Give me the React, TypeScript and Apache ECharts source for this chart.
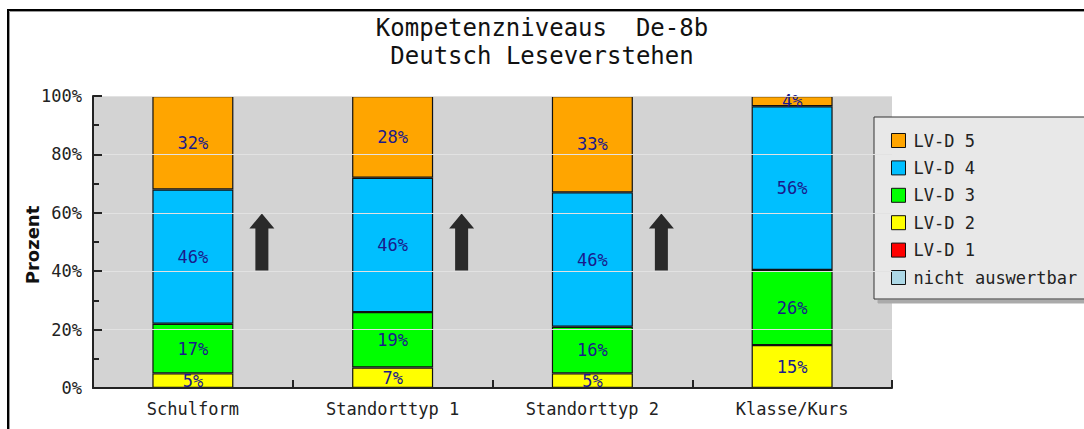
import React, { useEffect, useRef } from "react";
import * as echarts from "echarts";

const TITLE_LINES = ["Kompetenzniveaus  De-8b", "Deutsch Leseverstehen"];
const Y_AXIS_NAME = "Prozent";
const CATEGORIES = ["Schulform", "Standorttyp 1", "Standorttyp 2", "Klasse/Kurs"];
const LEVEL_NAMES = ["nicht auswertbar", "LV-D 1", "LV-D 2", "LV-D 3", "LV-D 4", "LV-D 5"];
const LEVEL_COLORS = ["#add8e6", "#ff0000", "#ffff00", "#00ff00", "#00bfff", "#ffa500"];
const NICHT_AUSWERTBAR = [0, 0, 0, 0];
const LVD1 = [0, 0, 0, 0];
const LVD2 = [5, 7, 5, 14.7];
const LVD3 = [17, 19, 16, 25.7];
const LVD4 = [46, 46, 46, 56.1];
const LVD5 = [32, 28, 33, 3.5];
const LEVEL_VALUES = [NICHT_AUSWERTBAR, LVD1, LVD2, LVD3, LVD4, LVD5];
const ARROW_CATEGORIES = ["Schulform", "Standorttyp 1", "Standorttyp 2"];
const ARROW_LEVEL = 50;
const Y_TICKS = [0, 20, 40, 60, 80, 100];

const FONT = "'DejaVu Sans Mono', 'Liberation Mono', monospace";
const ARROW_PATH = "path://M12.5,0 L25,15 L19,15 L19,57 L6,57 L6,15 L0,15 Z";

export default function App() {
  const ref = useRef<HTMLDivElement>(null);

  useEffect(() => {
    document.body.style.margin = "0";
    if (!ref.current) return;
    const chart = echarts.init(ref.current, undefined, { renderer: "svg" });

    const barSeries = LEVEL_NAMES.map((name, i) => ({
      name,
      type: "bar",
      stack: "total",
      barWidth: 81,
      data: LEVEL_VALUES[i],
      itemStyle: { color: LEVEL_COLORS[i], borderColor: "#111", borderWidth: 1.2 },
      label: {
        show: true,
        position: "inside",
        fontFamily: FONT,
        fontSize: 17,
        color: "#1a1a8c",
        formatter: (p: any) => (p.value > 0 ? Math.round(p.value) + "%" : ""),
      },
    }));

    const arrowSeries = {
      name: "arrow",
      type: "scatter",
      symbol: ARROW_PATH,
      symbolSize: [25, 57],
      symbolOffset: [69, 0],
      itemStyle: { color: "#2a2a2a", opacity: 1 },
      z: 5,
      data: ARROW_CATEGORIES.map((c) => [c, ARROW_LEVEL]),
    };

    const titleStyle = {
      fontFamily: FONT,
      fontSize: 24,
      fontWeight: "normal",
      color: "#111",
      lineHeight: 24,
    };

    chart.setOption({
      animation: false,
      backgroundColor: "#ffffff",
      title: TITLE_LINES.map((t, i) => ({
        text: t,
        left: "center",
        top: 16 + i * 28,
        padding: 0,
        textStyle: titleStyle,
      })),
      graphic: [
        {
          type: "rect",
          shape: { x: 8, y: 10, width: 1200, height: 600 },
          style: { fill: "none", stroke: "#000", lineWidth: 2 },
          z: 0,
          silent: true,
        },
        {
          type: "line",
          shape: { x1: 9.5, y1: 11.5, x2: 1200, y2: 11.5 },
          style: { stroke: "#999", lineWidth: 1 },
          silent: true,
        },
        {
          type: "line",
          shape: { x1: 9.5, y1: 11.5, x2: 9.5, y2: 600 },
          style: { stroke: "#999", lineWidth: 1 },
          silent: true,
        },
        {
          type: "text",
          x: 32,
          y: 245,
          rotation: Math.PI / 2,
          silent: true,
          style: {
            text: Y_AXIS_NAME,
            align: "center",
            verticalAlign: "middle",
            fontFamily: "'DejaVu Sans', sans-serif",
            fontSize: 18,
            fontWeight: "bold",
            fill: "#111",
          },
        },
      ],
      legend: {
        orient: "vertical",
        left: 874,
        top: 117,
        data: [...LEVEL_NAMES].reverse(),
        icon: "rect",
        itemWidth: 14,
        itemHeight: 14,
        itemGap: 10.4,
        padding: [15, 60, 13, 17],
        backgroundColor: "#e8e8e8",
        borderColor: "#333",
        borderWidth: 1,
        shadowColor: "#aaa",
        shadowOffsetX: 4,
        shadowOffsetY: 4,
        shadowBlur: 0,
        itemStyle: { borderColor: "#111", borderWidth: 1 },
        textStyle: {
          fontFamily: FONT,
          fontSize: 17,
          color: "#222",
          padding: [0, 0, 0, 3],
        },
        selectedMode: false,
      },
      grid: {
        left: 93,
        top: 96,
        right: 192,
        bottom: 41,
        show: true,
        backgroundColor: "#d3d3d3",
        borderWidth: 0,
      },
      xAxis: {
        type: "category",
        data: CATEGORIES,
        axisLine: { lineStyle: { color: "#222", width: 2 } },
        axisTick: { show: true, inside: true, length: 8, lineStyle: { color: "#222", width: 2 } },
        axisLabel: { fontFamily: FONT, fontSize: 17, color: "#222", margin: 12 },
        z: 10,
      },
      yAxis: {
        type: "value",
        min: Y_TICKS[0],
        max: Y_TICKS[Y_TICKS.length - 1],
        interval: Y_TICKS[1] - Y_TICKS[0],
        axisLine: { show: true, lineStyle: { color: "#222", width: 2 } },
        axisTick: { show: true, inside: true, length: 9, lineStyle: { color: "#222", width: 2 } },
        minorTick: { show: true, splitNumber: 2, length: 6, lineStyle: { color: "#222", width: 2 } },
        splitLine: { show: true, lineStyle: { color: "#e2e2e2", width: 1 } },
        axisLabel: {
          fontFamily: FONT,
          fontSize: 17,
          color: "#222",
          margin: 11,
          formatter: (v: number) => v + "%",
        },
        z: 10,
      },
      series: [...barSeries, arrowSeries],
    });

    return () => chart.dispose();
  }, []);

  return <div ref={ref} style={{ width: 1084, height: 429 }} />;
}
